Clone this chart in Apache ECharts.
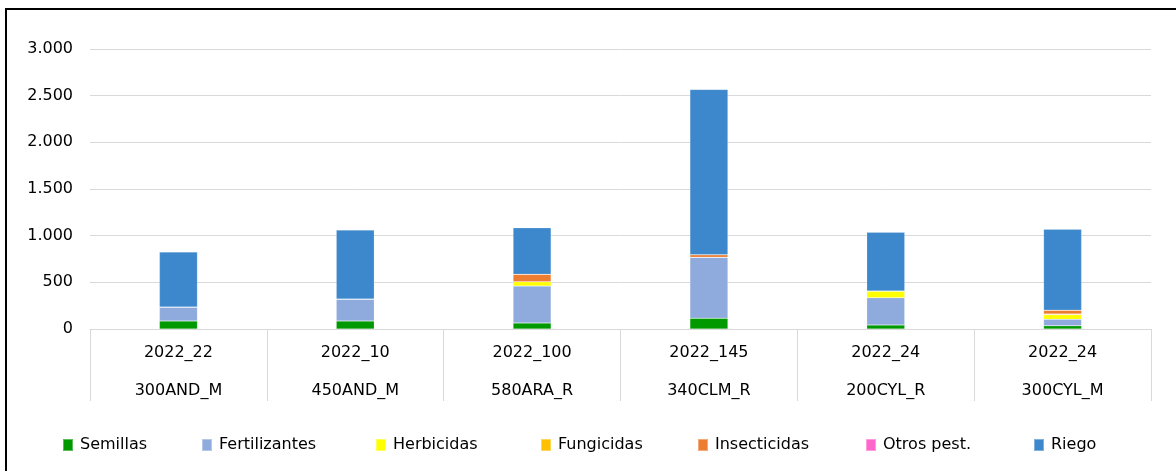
<!DOCTYPE html>
<html>
<head>
<meta charset="utf-8">
<script src="https://cdn.jsdelivr.net/npm/echarts@6/dist/echarts.min.js"></script>
<style>
  html, body { margin: 0; padding: 0; background: #fff; }
  #main { width: 1176px; height: 471px; }
  #frame { position: absolute; left: 5px; top: 8px; width: 1200px; height: 500px; border: 2px solid #000; pointer-events: none; }
</style>
</head>
<body>
<div id="main"></div>
<div id="frame"></div>
<script>
  // categorias (dos niveles)
  const ensayos = ['2022_22', '2022_10', '2022_100', '2022_145', '2022_24', '2022_24']
  const zonas = ['300AND_M', '450AND_M', '580ARA_R', '340CLM_R', '200CYL_R', '300CYL_M']

  const seriesNames = ['Semillas', 'Fertilizantes', 'Herbicidas', 'Fungicidas', 'Insecticidas', 'Otros pest.', 'Riego']
  const seriesColors = ['#009900', '#8faadc', '#ffff00', '#ffc000', '#ed7d31', '#ff66cc', '#3d88cc']

  const semillas = [86, 86, 64, 115, 43, 34]
  const fertilizantes = [150, 235, 396, 653, 292, 70]
  const herbicidas = [0, 0, 47, 0, 72, 48]
  const fungicidas = [0, 0, 0, 0, 0, 10]
  const insecticidas = [0, 0, 79, 28, 0, 40]
  const otrosPest = [0, 0, 0, 0, 0, 0]
  const riego = [589, 739, 499, 1771, 629, 866]

  const values = [semillas, fertilizantes, herbicidas, fungicidas, insecticidas, otrosPest, riego]

  // posicion de cada entrada de la leyenda
  const legendLeft = [57, 196, 370, 535, 692, 860, 1028]

  const fmt = v => String(v).replace(/\B(?=(\d{3})+(?!\d))/g, '.')

  const chart = echarts.init(document.getElementById('main'))
  chart.setOption({
    animation: false,
    textStyle: { fontFamily: 'DejaVu Sans' },
    grid: { left: 90, right: 25, top: 49, bottom: 142 },
    legend: seriesNames.map((n, i) => ({
      data: [n],
      left: legendLeft[i],
      top: 432,
      itemWidth: 10,
      itemHeight: 12,
      icon: 'rect',
      itemGap: 0,
      textStyle: { fontSize: 16, color: '#000', padding: [0, 0, 0, 2] }
    })),
    xAxis: [
      {
        type: 'category',
        data: ensayos,
        position: 'bottom',
        axisLine: { lineStyle: { color: '#d9d9d9', width: 1 } },
        axisTick: { show: true, length: 72, lineStyle: { color: '#d9d9d9' } },
        axisLabel: { color: '#000', fontSize: 16, margin: 16 }
      },
      {
        type: 'category',
        data: zonas,
        position: 'bottom',
        offset: 38,
        axisLine: { show: false },
        axisTick: { show: false },
        axisLabel: { color: '#000', fontSize: 16, margin: 16 }
      }
    ],
    yAxis: {
      type: 'value',
      min: 0,
      max: 3000,
      interval: 500,
      axisLine: { show: false },
      axisTick: { show: false },
      splitLine: { lineStyle: { color: '#d9d9d9', width: 1 } },
      axisLabel: { color: '#000', fontSize: 16, margin: 17, formatter: fmt }
    },
    series: seriesNames.map((n, i) => ({
      name: n,
      type: 'bar',
      stack: 'total',
      barWidth: '21.5%',
      data: values[i],
      itemStyle: { color: seriesColors[i], borderColor: 'rgba(255,255,255,0.35)', borderWidth: 0.5 }
    }))
  })
</script>
</body>
</html>
